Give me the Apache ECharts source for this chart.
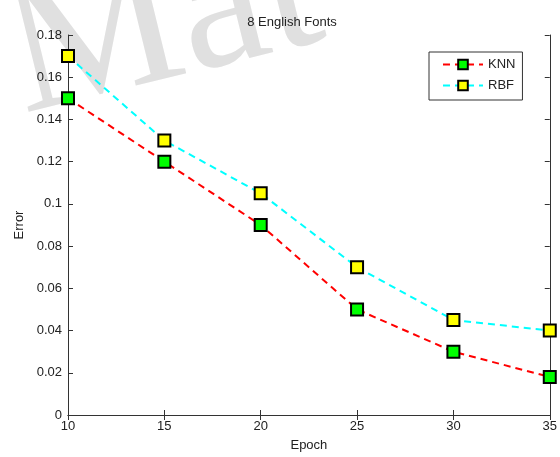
<!DOCTYPE html>
<html>
<head>
<meta charset="utf-8">
<script src="https://cdn.jsdelivr.net/npm/echarts@6/dist/echarts.min.js"></script>
<style>
  html, body { margin: 0; padding: 0; background: #fff; }
  #chart { width: 560px; height: 457px; }
</style>
</head>
<body>
<div id="chart"></div>
<script>
'use strict';

// epochs on the x axis
var epochs = [10, 15, 20, 25, 30, 35];
// error
var knnError = [0.15, 0.12, 0.09, 0.05, 0.03, 0.018];
var rbfError = [0.17, 0.13, 0.105, 0.07, 0.045, 0.04];

function pairs(xs, ys) {
    return xs.map(function (x, i) { return [x, ys[i]]; });
}

var font = 'Liberation Sans';
var textColor = '#222';
var axisColor = '#333';

var chart = echarts.init(document.getElementById('chart'));

function boxAxis(pos, base) {
    // extra axis used only to close the box with inward ticks
    return Object.assign({
        position: pos,
        axisLine: { show: true, lineStyle: { color: axisColor, width: 1 } },
        axisTick: { show: true, inside: true, length: 5, lineStyle: { color: axisColor } },
        axisLabel: { show: false },
        splitLine: { show: false }
    }, base);
}

var option = {
    animation: false,
    backgroundColor: '#fff',
    title: {
        text: '8 English Fonts',
        left: 287,
        top: 11,
        textAlign: 'center',
        textStyle: { fontFamily: font, fontSize: 13, fontWeight: 'normal', color: textColor }
    },
    graphic: [{
        type: 'text',
        left: -12,
        top: -106,
        rotation: 0.24,
        z: -10,
        silent: true,
        style: {
            text: 'Mat',
            font: '195px "Liberation Serif"',
            fill: '#e0e0e0'
        }
    }],
    legend: {
        data: ['KNN', 'RBF'],
        orient: 'vertical',
        left: 429,
        top: 52,
        itemWidth: 40,
        itemHeight: 12,
        itemGap: 8,
        padding: [6, 7, 8, 13],
        borderColor: axisColor,
        borderWidth: 1,
        backgroundColor: '#fff',
        textStyle: { fontFamily: font, fontSize: 13, color: textColor, padding: [0, 0, 0, 0] }
    },
    grid: { left: 68, right: 7, top: 35, bottom: 40, containLabel: false },
    xAxis: [{
        type: 'value',
        min: 10,
        max: 35,
        interval: 5,
        name: 'Epoch',
        nameLocation: 'middle',
        nameGap: 24,
        nameTextStyle: { fontFamily: font, fontSize: 13, color: textColor },
        axisLine: { show: true, lineStyle: { color: axisColor, width: 1 } },
        axisTick: { show: true, inside: true, length: 5, lineStyle: { color: axisColor } },
        axisLabel: { fontFamily: font, fontSize: 13, color: textColor, margin: 5 },
        splitLine: { show: false }
    }, boxAxis('top', { type: 'value', min: 10, max: 35, interval: 5 })],
    yAxis: [{
        type: 'value',
        min: 0,
        max: 0.18,
        interval: 0.02,
        name: 'Error',
        nameLocation: 'middle',
        nameGap: 42,
        nameTextStyle: { fontFamily: font, fontSize: 13, color: textColor },
        axisLine: { show: true, lineStyle: { color: axisColor, width: 1 } },
        axisTick: { show: true, inside: true, length: 5, lineStyle: { color: axisColor } },
        axisLabel: {
            fontFamily: font, fontSize: 13, color: textColor, margin: 6,
            formatter: function (v) { return String(parseFloat(v.toFixed(2))); }
        },
        splitLine: { show: false }
    }, boxAxis('right', { type: 'value', min: 0, max: 0.18, interval: 0.02 })],
    series: [
        {
            name: 'KNN',
            type: 'line',
            data: pairs(epochs, knnError),
            symbol: 'rect',
            symbolSize: 12,
            itemStyle: { color: '#00ff00', borderColor: '#000', borderWidth: 2 },
            lineStyle: { color: '#ff0000', width: 2, type: [7, 5] },
            z: 3
        },
        {
            name: 'RBF',
            type: 'line',
            data: pairs(epochs, rbfError),
            symbol: 'rect',
            symbolSize: 12,
            itemStyle: { color: '#ffff00', borderColor: '#000', borderWidth: 2 },
            lineStyle: { color: '#00ffff', width: 2, type: [7, 5] },
            z: 2
        }
    ]
};

chart.setOption(option);
</script>
</body>
</html>
